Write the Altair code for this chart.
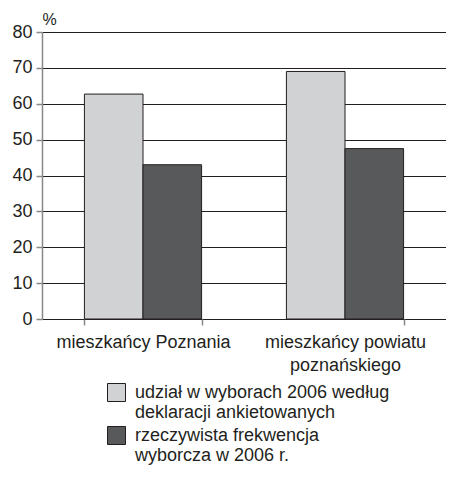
import altair as alt
import pandas as pd

categories = ["mieszkańcy Poznania", "mieszkańcy powiatu poznańskiego"]
series = ["udział w wyborach 2006 według deklaracji ankietowanych",
          "rzeczywista frekwencja wyborcza w 2006 r."]
declared = [62.7, 69.0]
actual = [43.0, 47.5]

rows = []
for i, c in enumerate(categories):
    rows.append({"kat": c, "seria": series[0], "val": declared[i]})
    rows.append({"kat": c, "seria": series[1], "val": actual[i]})
df = pd.DataFrame(rows)

FONT = "Liberation Sans"

x_label_expr = ("datum.label == 'mieszkańcy powiatu poznańskiego' ? "
                "['mieszkańcy powiatu', 'poznańskiego'] : datum.label")
legend_label_expr = ("datum.label == '" + series[0] + "' ? "
                     "['udział w wyborach 2006 według', 'deklaracji ankietowanych'] : "
                     "['rzeczywista frekwencja', 'wyborcza w 2006 r.']")

chart = alt.Chart(df).mark_bar(stroke="#231f20", strokeWidth=1).encode(
    x=alt.X("kat:N", sort=categories, title=None,
            scale=alt.Scale(paddingInner=0.42, paddingOuter=0.21),
            axis=alt.Axis(labelAngle=0, labelExpr=x_label_expr, labelFontSize=18,
                          labelFont=FONT, labelColor="#231f20", labelPadding=8,
                          labelLineHeight=23, domain=False, ticks=True,
                          tickBand="extent", tickColor="#888888", tickSize=6,
                          tickWidth=1.5, grid=False)),
    xOffset=alt.XOffset("seria:N", sort=series),
    y=alt.Y("val:Q", title="%",
            scale=alt.Scale(domain=[0, 80]),
            axis=alt.Axis(values=[0, 10, 20, 30, 40, 50, 60, 70, 80],
                          labelFontSize=18, labelFont=FONT, labelColor="#231f20",
                          labelPadding=4, tickSize=6, tickColor="#888888",
                          tickWidth=1.5, domainColor="#888888", domainWidth=1.5,
                          grid=True, gridColor="#231f20", gridWidth=1,
                          titleAngle=0, titleX=0, titleY=-8, titleAlign="left",
                          titleBaseline="alphabetic", titleFontSize=16,
                          titleFont=FONT, titleFontWeight="normal",
                          titleColor="#231f20")),
    color=alt.Color("seria:N", sort=series,
                    scale=alt.Scale(domain=series, range=["#d1d2d4", "#58595b"]),
                    legend=alt.Legend(title=None, orient="none", legendX=65,
                                      legendY=351, direction="vertical",
                                      labelExpr=legend_label_expr,
                                      labelFontSize=18, labelFont=FONT,
                                      labelColor="#231f20", labelLimit=400,
                                      labelBaseline="middle",
                                      labelOffset=9, symbolType="square",
                                      symbolSize=324, symbolStrokeColor="#231f20",
                                      symbolStrokeWidth=1, rowPadding=2)),
).properties(
    width=404, height=287,
    autosize=alt.AutoSizeParams(type="none"),
    padding={"left": 34, "top": 24, "right": 0, "bottom": 146},
).configure_view(stroke=None)

chart.save("out.html", embed_options={"renderer": "svg", "actions": False})
